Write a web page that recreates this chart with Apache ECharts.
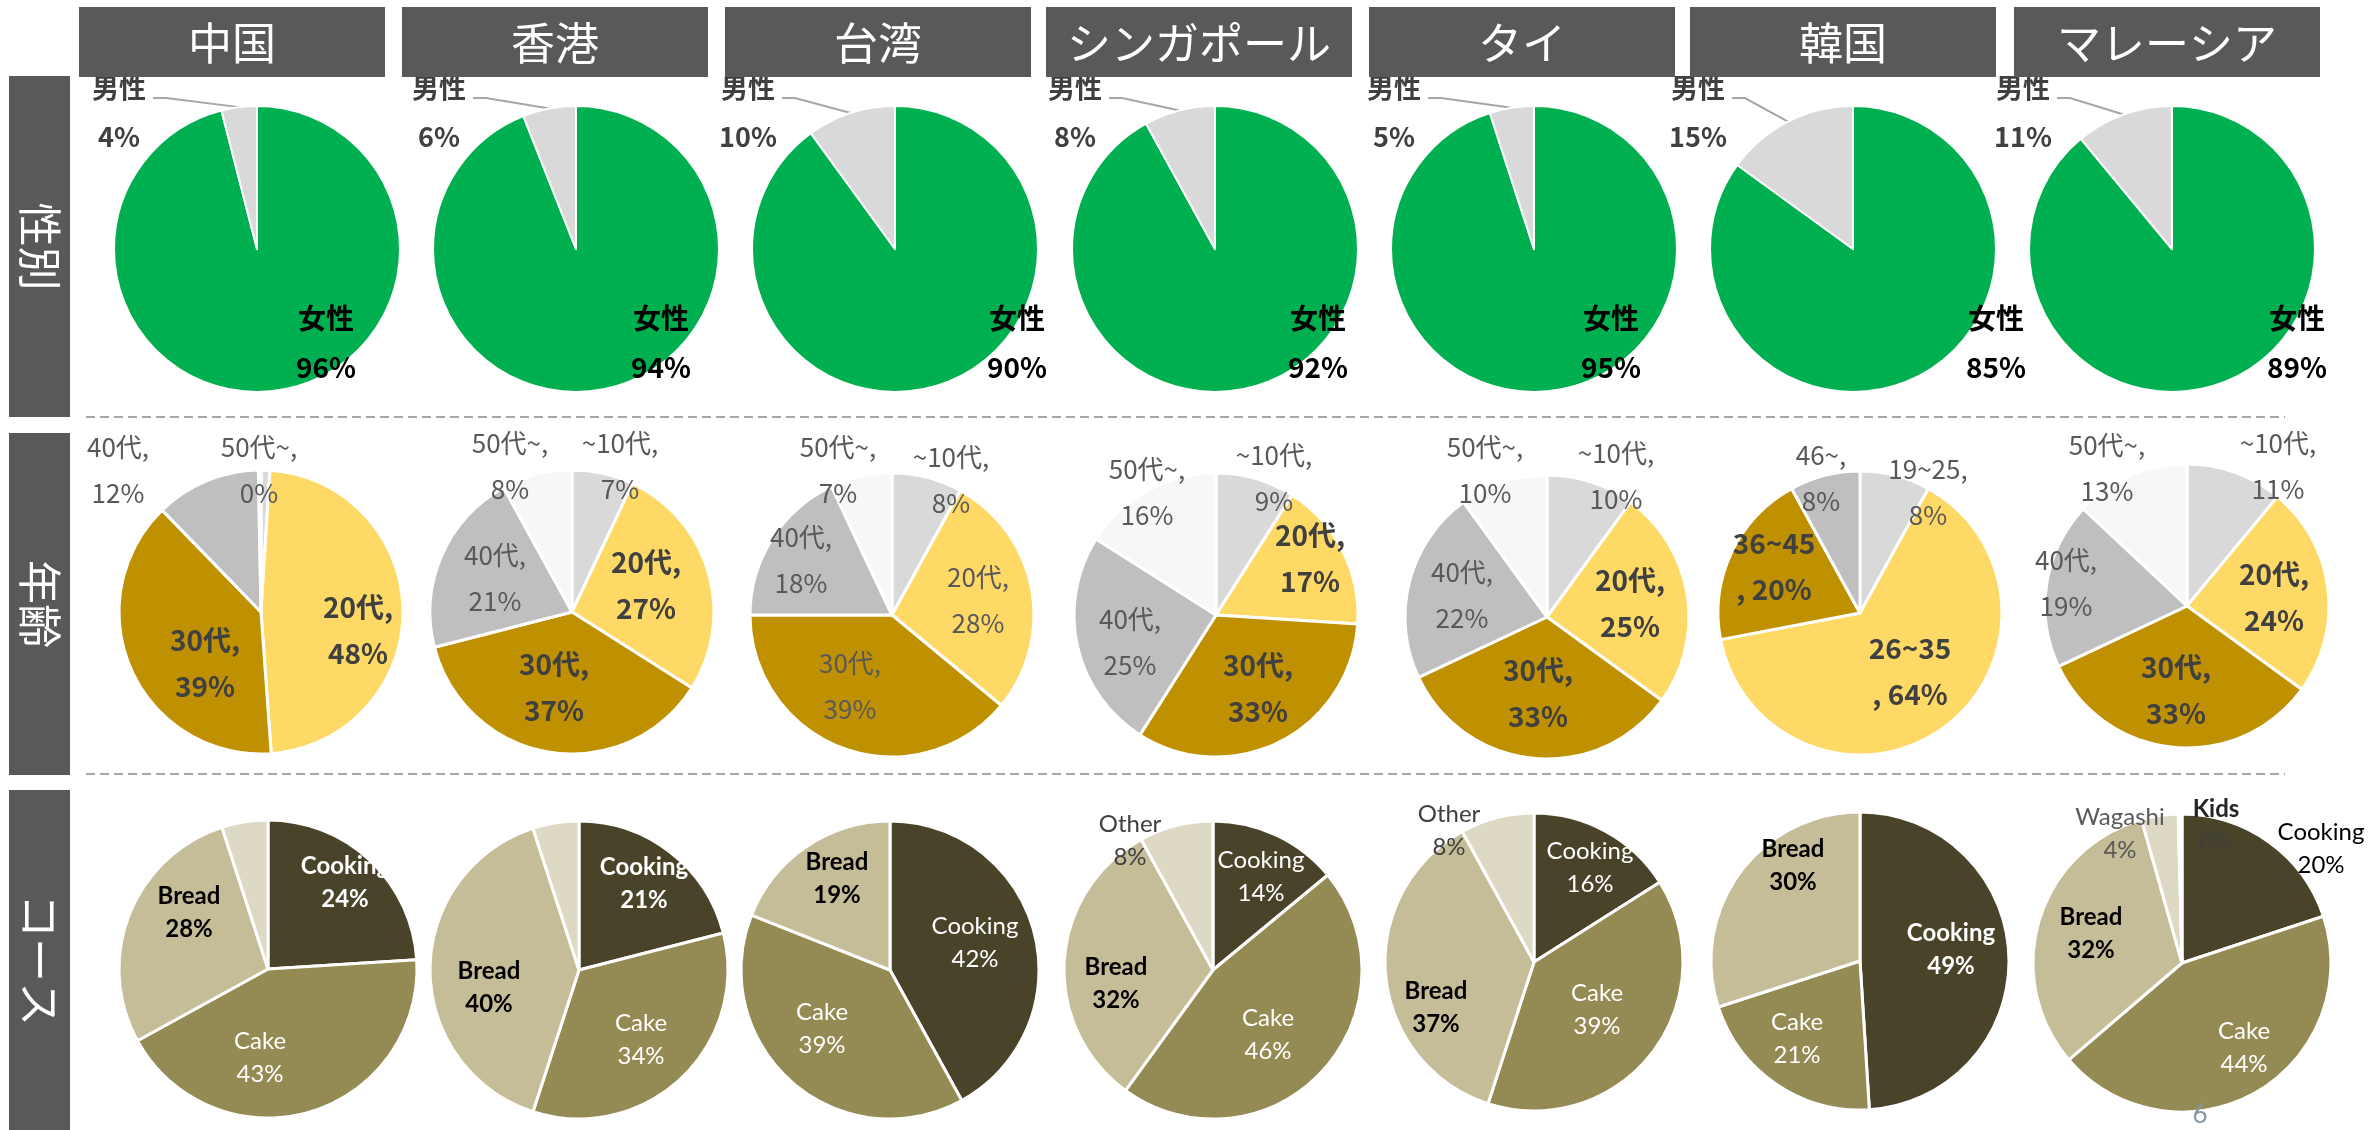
<!DOCTYPE html>
<html>
<head>
<meta charset="utf-8">
<title>国別 性別・年齢・コース</title>
<script src="https://cdn.jsdelivr.net/npm/echarts@6/dist/echarts.min.js"></script>
<style>
html, body { margin: 0; padding: 0; background: #fff; }
#chart { width: 2369px; height: 1130px; }
</style>
</head>
<body>
<div id="chart"></div>
<script>
// ---- data ----
const countries = ['中国', '香港', '台湾', 'シンガポール', 'タイ', '韓国', 'マレーシア'];
const rowTitles = ['性別', '年齢', 'コース'];

// 性別
const genderNames = ['女性', '男性'];
const genderValues = [[96, 4], [94, 6], [90, 10], [92, 8], [95, 5], [85, 15], [89, 11]];

// 年齢 (韓国は区分が違う)
const ageNamesStd = ['~10代', '20代', '30代', '40代', '50代~'];
const ageNamesKr = ['19~25', '26~35', '36~45', '46~'];
const ageNames = [ageNamesStd, ageNamesStd, ageNamesStd, ageNamesStd, ageNamesStd, ageNamesKr, ageNamesStd];
const ageValues = [[1, 48, 39, 12, 0.3], [7, 27, 37, 21, 8], [8, 28, 39, 18, 7], [9, 17, 33, 25, 16], [10, 25, 33, 22, 10], [8, 64, 20, 8], [11, 24, 33, 19, 13]];

// コース
const courseNames = [
    ['Cooking', 'Cake', 'Bread', 'Other'],
    ['Cooking', 'Cake', 'Bread', 'Other'],
    ['Cooking', 'Cake', 'Bread'],
    ['Cooking', 'Cake', 'Bread', 'Other'],
    ['Cooking', 'Cake', 'Bread', 'Other'],
    ['Cooking', 'Cake', 'Bread'],
    ['Cooking', 'Cake', 'Bread', 'Wagashi', 'Kids']
];
const courseValues = [[24, 43, 28, 5], [21, 34, 40, 5], [42, 39, 19], [14, 46, 32, 8], [16, 39, 37, 8], [49, 21, 30], [20, 44, 32, 4, 0.4]];

// ---- layout / style ----
const JP = '"Noto Sans CJK JP", "Noto Sans", sans-serif';
const EN = 'Lato, "Noto Sans", sans-serif';
const headerX = [79, 402, 725, 1046, 1369, 1690, 2014];
const headerW = 306;
const genderCenters = [[257, 249], [576, 249], [895, 249], [1215, 249], [1534, 249], [1853, 249], [2172, 249]];
const ageCenters = [[261, 612], [572, 612], [892, 615], [1216, 615], [1547, 617], [1860, 613], [2187, 606]];
const courseCenters = [[268, 969], [579, 970], [890, 970], [1213, 970], [1534, 962], [1860, 961], [2182, 963]];

// label block centers, relative to the pie center (null = no label)
const genderLabelPos = [[[69, 94], [-138, -137]], [[85, 94], [-137, -137]], [[122, 94], [-147, -137]], [[103, 94], [-140, -137]], [[77, 94], [-140, -137]], [[143, 94], [-155, -137]], [[125, 94], [-149, -137]]];
const ageLabelPos = [
    [null, [97, 18], [-56, 51], [-143, -142], [-2, -142]],
    [[48, -146], [74, -27], [-18, 75], [-77, -34], [-62, -146]],
    [[59, -135], [86, -15], [-42, 71], [-91, -55], [-54, -145]],
    [[58, -137], [94, -57], [42, 73], [-86, 27], [-69, -123]],
    [[69, -141], [83, -14], [-9, 76], [-85, -22], [-62, -147]],
    [[68, -121], [50, 58], [-86, -47], [-39, -135]],
    [[91, -140], [87, -9], [-11, 84], [-121, -23], [-80, -138]]
];
const courseLabelPos = [
    [[77, -86], [-8, 89], [-79, -56], null],
    [[65, -86], [62, 70], [-90, 18], null],
    [[85, -27], [-68, 59], [-53, -91]],
    [[48, -93], [55, 65], [-97, 14], [-83, -129]],
    [[56, -94], [63, 48], [-98, 46], [-85, -131]],
    [[91, -11], [-63, 78], [-67, -95]],
    [[139, -114], [62, 85], [-91, -29], [-62, -129], [34, -137]]
];

const genderColors = { '女性': '#00B050', '男性': '#D9D9D9' };
const ageColors = { '~10代': '#D9D9D9', '20代': '#FFD966', '30代': '#BF9000', '40代': '#BFBFBF', '50代~': '#F7F7F7', '19~25': '#D9D9D9', '26~35': '#FFD966', '36~45': '#BF9000', '46~': '#BFBFBF' };
const courseColors = { Cooking: '#494429', Cake: '#948A54', Bread: '#C4BD97', Other: '#DDD9C4', Wagashi: '#DDD9C4', Kids: '#FFFFFF' };
const ageBold = ['20代', '30代', '26~35', '36~45'];
const ageCommaFirst = ['26~35', '36~45'];
const boldCooking = [0, 1, 5];

function pie(center, radius, names, values, pos, colors, border, labelBase, itemLabel, withLine) {
    const total = values.reduce((a, b) => a + b, 0);
    return {
        type: 'pie',
        center: center,
        radius: radius,
        startAngle: 90,
        clockwise: true,
        avoidLabelOverlap: false,
        silent: true,
        animation: false,
        itemStyle: { borderColor: '#fff', borderWidth: border },
        label: Object.assign({ show: true, position: withLine ? 'outside' : 'inside' }, labelBase),
        labelLine: { show: false, lineStyle: { color: '#A6A6A6', width: 2 } },
        data: names.map((n, k) => ({
            name: n,
            value: values[k],
            itemStyle: { color: colors[n] },
            label: Object.assign({ show: !!pos[k] }, itemLabel(n)),
            labelLine: { show: !!(withLine && n === '男性') }
        })),
        labelLayout: function (p) {
            const off = pos[p.dataIndex];
            if (!off) return {};
            const lx = center[0] + off[0], ly = center[1] + off[1];
            const out = { x: lx, y: ly, align: 'center', verticalAlign: 'middle' };
            if (withLine && names[p.dataIndex] === '男性') {
                let cum = 0;
                for (let k = 0; k < p.dataIndex; k++) cum += values[k];
                const a = (90 - 360 * (cum + values[p.dataIndex] / 2) / total) * Math.PI / 180;
                const edge = [center[0] + radius * Math.cos(a), center[1] - radius * Math.sin(a)];
                const yLine = center[1] - 151;
                const xEnd = lx + 34;
                out.labelLinePoints = [edge, [xEnd + 13, yLine], [xEnd, yLine]];
            }
            return out;
        }
    };
}

const series = [];
countries.forEach(function (c, i) {
    series.push(pie(genderCenters[i], 143, genderNames, genderValues[i], genderLabelPos[i], genderColors, 2,
        { formatter: '{b}\n{c}%', fontFamily: JP, lineHeight: 49 },
        n => n === '女性' ? { color: '#000', fontWeight: 'bold', fontSize: 28 } : { color: '#404040', fontWeight: 'bold', fontSize: 27 },
        true));
    series.push(pie(ageCenters[i], 142, ageNames[i], ageValues[i], ageLabelPos[i], ageColors, 3,
        {
            fontFamily: JP, lineHeight: 46,
            formatter: function (p) {
                const v = Math.round(p.value) + '%';
                return ageCommaFirst.indexOf(p.name) >= 0 ? p.name + '\n, ' + v : p.name + ',\n' + v;
            }
        },
        n => (ageBold.indexOf(n) >= 0 && c !== '台湾') ? { color: '#404040', fontWeight: 'bold', fontSize: 28 } : { color: '#595959', fontSize: 26 },
        false));
    series.push(pie(courseCenters[i], 149, courseNames[i], courseValues[i], courseLabelPos[i], courseColors, 3,
        {
            fontFamily: EN, fontSize: 24, lineHeight: 33,
            formatter: function (p) {
                const v = Math.round(p.value) + '%';
                return p.name === 'Kids' ? '{k|Kids}\n{z|' + v + '}' : p.name + '\n' + v;
            },
            rich: {
                k: { fontFamily: EN, fontSize: 24, lineHeight: 33, fontWeight: 'bold', color: '#262626' },
                z: { fontFamily: EN, fontSize: 24, lineHeight: 33, color: '#404040' }
            }
        },
        function (n) {
            const s = { color: '#fff', fontWeight: 'normal' };
            if (n === 'Bread') { s.color = '#000'; s.fontWeight = 'bold'; }
            if (n === 'Other') s.color = '#404040';
            if (n === 'Wagashi') s.color = '#595959';
            if (n === 'Cooking' && boldCooking.indexOf(i) >= 0) s.fontWeight = 'bold';
            if (n === 'Cooking' && c === 'マレーシア') s.color = '#000';
            return s;
        },
        false));
});

// headers, row titles, separators
const graphics = [];
countries.forEach(function (c, i) {
    graphics.push({ type: 'rect', z: 100, shape: { x: headerX[i], y: 7, width: headerW, height: 70 }, style: { fill: '#595959' } });
    graphics.push({ type: 'text', z: 101, x: headerX[i] + headerW / 2, y: 43,
        style: { text: c, fill: '#fff', fontSize: 44, fontFamily: JP, align: 'center', verticalAlign: 'middle', textAlign: 'center', textVerticalAlign: 'middle' } });
});
const rowBoxes = [[76, 341], [433, 342], [790, 340]];
rowTitles.forEach(function (t, k) {
    graphics.push({ type: 'rect', z: 100, shape: { x: 9, y: rowBoxes[k][0], width: 61, height: rowBoxes[k][1] }, style: { fill: '#595959' } });
    graphics.push({ type: 'text', z: 101, x: 40, y: rowBoxes[k][0] + rowBoxes[k][1] / 2, rotation: -Math.PI / 2,
        style: { text: t, fill: '#fff', fontSize: 44, fontFamily: JP, align: 'center', verticalAlign: 'middle', textAlign: 'center', textVerticalAlign: 'middle' } });
});
[417, 774].forEach(function (y) {
    graphics.push({ type: 'line', z: 50, shape: { x1: 86, y1: y, x2: 2285, y2: y }, style: { stroke: '#A6A6A6', lineWidth: 2, lineDash: [9, 5] } });
});
graphics.push({ type: 'text', z: 101, x: 2200, y: 1115,
    style: { text: '6', fill: '#8497A8', fontSize: 26, fontFamily: EN, align: 'center', verticalAlign: 'middle', textAlign: 'center', textVerticalAlign: 'middle' } });

let myChart = echarts.init(document.getElementById('chart'))
myChart.setOption({
    backgroundColor: '#fff',
    animation: false,
    graphic: { elements: graphics },
    series: series
})
</script>
</body>
</html>
